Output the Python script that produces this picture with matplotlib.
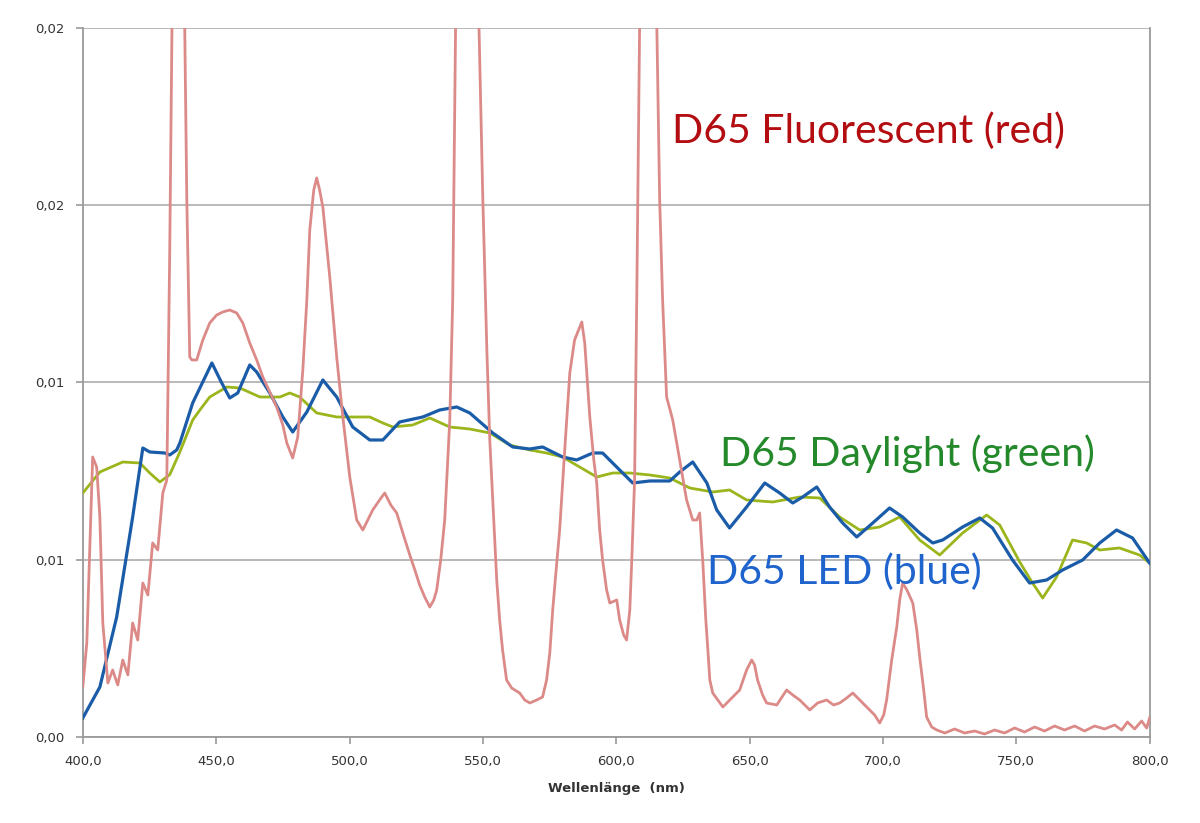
import matplotlib
matplotlib.use("Agg")
import matplotlib.pyplot as plt
from matplotlib.ticker import FuncFormatter, MultipleLocator

# ---- data (wavelength in nm, spectral power as plotted) ----
led_nm = [400.0, 406.4, 412.7, 418.7, 422.5, 425.1, 430.7, 432.6, 435.2, 436.4, 441.2, 448.4,
          452.1, 455.1, 458.1, 462.6, 465.2, 470.1, 475.0, 478.7, 484.0, 490.0, 495.2, 501.2,
          507.6, 512.5, 518.8, 527.5, 533.8, 540.2, 545.1, 553.7, 561.2, 567.6, 572.4, 579.9,
          585.2, 591.2, 594.9, 601.3, 606.2, 612.6, 620.1, 623.8, 628.7, 634.0, 637.7, 642.5,
          648.9, 655.7, 661.3, 666.2, 669.9, 675.2, 680.0, 684.9, 690.2, 696.2, 702.5, 707.4,
          713.8, 718.7, 722.4, 729.9, 736.3, 741.1, 748.6, 755.0, 761.4, 767.4, 774.9, 781.3,
          787.6, 793.6, 800.0]
led_val = [0.536, 1.410, 3.385, 6.206, 8.152, 8.040, 8.011, 7.955, 8.096, 8.293, 9.422, 10.550,
           9.986, 9.563, 9.704, 10.494, 10.296, 9.704, 9.027, 8.604, 9.168, 10.071, 9.591, 8.745,
           8.378, 8.378, 8.886, 9.027, 9.224, 9.309, 9.140, 8.576, 8.181, 8.124, 8.181, 7.899,
           7.814, 8.011, 8.011, 7.532, 7.165, 7.222, 7.222, 7.475, 7.757, 7.165, 6.403, 5.896,
           6.488, 7.165, 6.883, 6.601, 6.770, 7.052, 6.488, 6.037, 5.642, 6.037, 6.460, 6.206,
           5.755, 5.473, 5.557, 5.924, 6.178, 5.896, 4.993, 4.344, 4.429, 4.711, 4.993, 5.473,
           5.839, 5.614, 4.908]

day_nm = [400.0, 406.4, 415.0, 421.4, 425.1, 428.9, 432.6, 436.4, 441.2, 443.9, 447.6, 454.0,
          458.9, 466.4, 473.9, 477.6, 481.3, 487.7, 495.2, 502.7, 507.6, 512.5, 516.2, 523.7,
          530.1, 537.6, 545.1, 552.6, 560.1, 567.6, 573.9, 579.9, 586.3, 592.7, 598.7, 605.1,
          612.6, 620.1, 627.6, 636.2, 642.5, 648.9, 658.7, 668.8, 676.3, 683.8, 691.3, 698.8,
          706.3, 713.8, 721.3, 729.9, 738.9, 743.8, 751.3, 756.1, 759.9, 765.1, 771.1, 776.4,
          781.3, 788.7, 796.2, 800.0]
day_val = [6.883, 7.475, 7.757, 7.729, 7.447, 7.193, 7.399, 8.040, 8.942, 9.224, 9.591, 9.873,
           9.845, 9.591, 9.591, 9.704, 9.591, 9.140, 9.027, 9.027, 9.027, 8.858, 8.745, 8.801,
           8.999, 8.745, 8.688, 8.576, 8.237, 8.096, 8.011, 7.899, 7.616, 7.334, 7.447, 7.447,
           7.391, 7.306, 7.024, 6.911, 6.968, 6.686, 6.629, 6.770, 6.742, 6.206, 5.839, 5.924,
           6.206, 5.557, 5.134, 5.755, 6.262, 5.980, 4.937, 4.344, 3.921, 4.513, 5.557, 5.473,
           5.275, 5.332, 5.134, 4.908]

fl_nm = [400.0, 401.5, 402.6, 403.7, 405.2, 406.4, 407.5, 409.4, 411.2, 413.1, 415.0, 416.9,
         418.7, 420.6, 422.5, 424.4, 426.2, 428.1, 430.0, 431.5, 432.6, 433.7, 435.6, 437.9,
         439.0, 440.1, 440.9, 442.7, 445.0, 447.6, 450.2, 452.5, 455.1, 457.7, 460.0, 462.6,
         465.2, 467.5, 470.1, 472.7, 475.0, 476.5, 478.7, 480.6, 482.5, 484.0, 485.1, 486.6,
         487.7, 488.8, 490.0, 492.6, 495.2, 497.5, 500.1, 502.7, 505.0, 508.7, 511.3, 513.2,
         515.5, 517.7, 520.0, 522.6, 524.5, 526.3, 528.2, 530.1, 531.6, 532.7, 534.2, 535.7,
         537.6, 538.7, 539.8, 544.0, 548.5, 550.0, 551.5, 552.6, 553.7, 555.2, 556.3, 557.4,
         558.9, 560.8, 563.8, 565.7, 567.6, 570.2, 572.4, 573.9, 575.1, 576.2, 577.7, 578.8,
         580.7, 582.6, 584.4, 585.9, 587.1, 588.2, 590.1, 591.6, 592.7, 593.8, 594.9, 596.4,
         597.6, 600.2, 601.3, 602.8, 603.9, 605.1, 605.8, 606.9, 607.7, 608.8, 611.8, 615.2,
         616.3, 617.4, 618.9, 621.2, 623.8, 626.4, 628.7, 630.2, 631.3, 632.5, 633.6, 634.3,
         635.1, 636.2, 638.1, 640.0, 643.7, 646.3, 648.9, 650.8, 651.9, 653.0, 654.9, 656.4,
         660.2, 663.9, 666.2, 668.8, 672.6, 675.5, 678.9, 681.5, 683.8, 686.4, 688.7, 691.3,
         693.9, 696.9, 698.8, 700.3, 701.4, 703.3, 705.2, 706.3, 707.4, 709.0, 711.2, 712.7,
         713.8, 715.3, 716.4, 718.3, 720.2, 723.2, 726.9, 730.6, 734.4, 738.1, 741.9, 745.6,
         749.4, 753.1, 756.9, 760.6, 764.4, 768.1, 771.9, 775.6, 779.4, 783.1, 786.9, 789.5,
         791.7, 794.4, 797.0, 798.9, 800.0]
fl_val = [1.410, 2.652, 5.275, 7.899, 7.616, 6.206, 3.216, 1.523, 1.890, 1.467, 2.172, 1.749,
          3.216, 2.736, 4.344, 4.006, 5.473, 5.275, 6.883, 7.250, 13.738, 22.0, 26.0, 22.0,
          15.148, 10.719, 10.635, 10.635, 11.199, 11.679, 11.904, 11.989, 12.045, 11.961, 11.679, 11.114,
          10.635, 10.155, 9.732, 9.309, 8.801, 8.293, 7.870, 8.463, 10.353, 12.327, 14.302, 15.430,
          15.769, 15.430, 14.951, 12.976, 10.719, 9.027, 7.334, 6.121, 5.839, 6.403, 6.686, 6.883,
          6.544, 6.319, 5.755, 5.134, 4.711, 4.288, 3.949, 3.667, 3.865, 4.147, 4.993, 6.121,
          8.942, 12.327, 20.2, 27.0, 20.2, 15.148, 10.917, 8.378, 6.686, 4.429, 3.300, 2.454,
          1.608, 1.382, 1.241, 1.044, 0.959, 1.044, 1.128, 1.608, 2.370, 3.583, 4.908, 5.839,
          8.096, 10.268, 11.199, 11.481, 11.707, 11.114, 9.027, 7.814, 7.165, 5.839, 4.993, 4.147,
          3.780, 3.865, 3.300, 2.877, 2.736, 3.583, 4.908, 7.250, 12.327, 20.2, 27.0, 20.2,
          15.148, 12.327, 9.591, 8.942, 7.814, 6.686, 6.121, 6.121, 6.319, 4.908, 3.300, 2.539,
          1.608, 1.241, 1.044, 0.846, 1.128, 1.326, 1.890, 2.172, 2.031, 1.608, 1.185, 0.959,
          0.903, 1.326, 1.185, 1.044, 0.762, 0.959, 1.044, 0.903, 0.959, 1.100, 1.241, 1.044,
          0.846, 0.621, 0.395, 0.621, 1.044, 2.172, 3.103, 3.865, 4.344, 4.147, 3.780, 3.018,
          2.257, 1.326, 0.564, 0.282, 0.197, 0.113, 0.226, 0.113, 0.169, 0.085, 0.197, 0.113,
          0.254, 0.141, 0.282, 0.169, 0.310, 0.197, 0.310, 0.169, 0.310, 0.226, 0.338, 0.197,
          0.423, 0.226, 0.451, 0.254, 0.536]

value_scale = 1e-3  # values above are in units of 1e-3

x_ticks = [400, 450, 500, 550, 600, 650, 700, 750, 800]
y_ticks = [0.0, 0.005, 0.01, 0.015, 0.02]

x_label = "Wellenlänge  (nm)"
label_fl = "D65 Fluorescent (red)"
label_day = "D65 Daylight (green)"
label_led = "D65 LED (blue)"

# ---- figure ----
fig = plt.figure(figsize=(12, 8.23), dpi=100)
ax = fig.add_axes([0.069, 0.1045, 0.889, 0.8615])

ax.plot(day_nm, [v * value_scale for v in day_val], color="#9bb61c", lw=2.0, zorder=3)
ax.plot(led_nm, [v * value_scale for v in led_val], color="#1b5ca8", lw=2.3, zorder=4)
ax.plot(fl_nm, [v * value_scale for v in fl_val], color="#dc8a88", lw=2.0, zorder=5)

ax.set_xlim(400, 800)
ax.set_ylim(0, 0.02)
ax.set_xticks(x_ticks)
ax.set_yticks(y_ticks)
ax.xaxis.set_major_formatter(FuncFormatter(lambda v, p: f"{v:.1f}".replace(".", ",")))
ax.yaxis.set_major_formatter(FuncFormatter(lambda v, p: f"{round(v + 1e-9, 2):.2f}".replace(".", ",")))

ax.grid(axis="y", color="#b3b3b3", lw=1.3, zorder=1)
ax.set_axisbelow(True)
for side in ["left", "right", "bottom"]:
    ax.spines[side].set_color("#9a9a9a")
    ax.spines[side].set_linewidth(1.3)
ax.spines["top"].set_visible(False)
ax.tick_params(axis="both", colors="#9a9a9a", length=5, width=1.2, labelsize=9.5,
               labelcolor="#333333")
ax.tick_params(axis="y", pad=8)
ax.tick_params(axis="x", pad=8)

ax.set_xlabel(x_label, fontsize=9.5, color="#333333", labelpad=10, fontweight="bold")

ax.text(0.552, 0.855, label_fl, transform=ax.transAxes, fontsize=29.5, color="#b30d12",
        family="Lato", va="center", ha="left", zorder=6)
ax.text(0.597, 0.400, label_day, transform=ax.transAxes, fontsize=29.5, color="#23892a",
        family="Lato", va="center", ha="left", zorder=6)
ax.text(0.585, 0.233, label_led, transform=ax.transAxes, fontsize=29.5, color="#1f63cc",
        family="Lato", va="center", ha="left", zorder=6)

fig.savefig("out.png", dpi=100, facecolor="white")
